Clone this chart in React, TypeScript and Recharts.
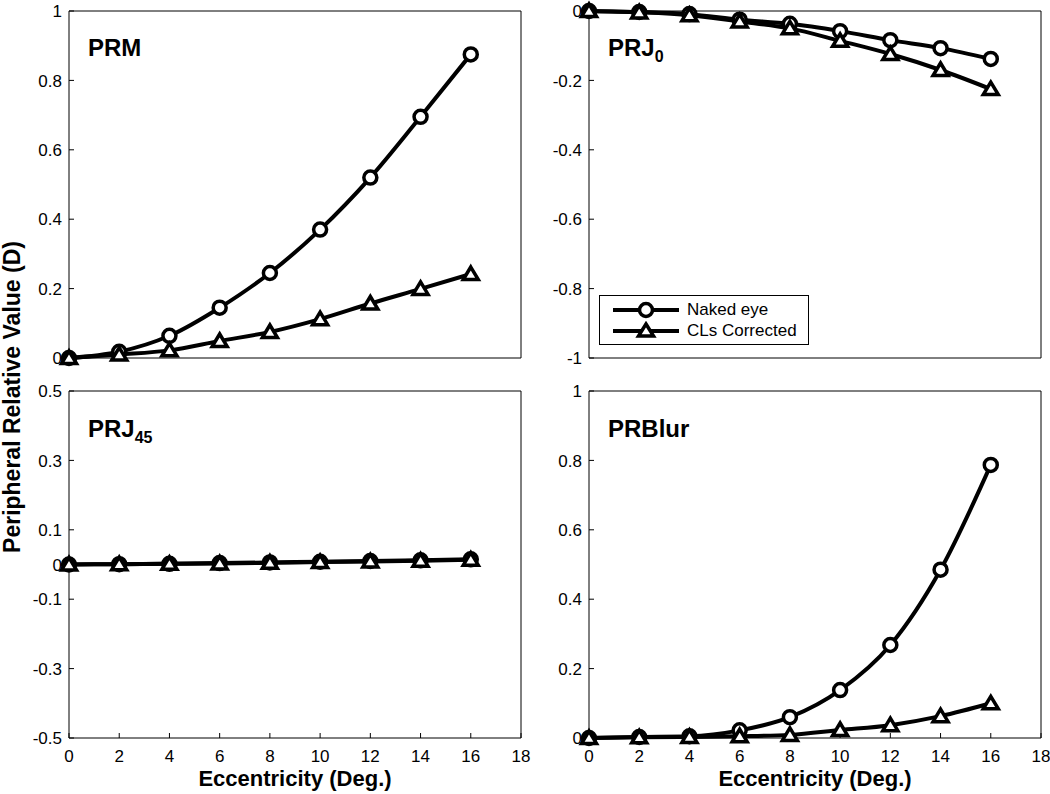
import React from "react";
import { LineChart, Line, XAxis, YAxis, Legend } from "recharts";

const FONT = '"Liberation Sans", Arial, sans-serif';

const ecc = [0, 2, 4, 6, 8, 10, 12, 14, 16];
const xTicks = [0, 2, 4, 6, 8, 10, 12, 14, 16, 18];

const prmNaked = [0, 0.018, 0.064, 0.145, 0.245, 0.37, 0.52, 0.695, 0.875];
const prmCL = [0, 0.01, 0.022, 0.049, 0.075, 0.112, 0.157, 0.199, 0.242];
const prj0Naked = [0, -0.003, -0.009, -0.025, -0.037, -0.058, -0.084, -0.107, -0.138];
const prj0CL = [0, -0.004, -0.012, -0.03, -0.05, -0.086, -0.124, -0.17, -0.225];
const prj45Naked = [0, 0.001, 0.002, 0.004, 0.006, 0.008, 0.01, 0.012, 0.015];
const prj45CL = [0, 0.001, 0.002, 0.003, 0.005, 0.007, 0.009, 0.011, 0.014];
const blurNaked = [0, 0.003, 0.005, 0.022, 0.06, 0.138, 0.268, 0.485, 0.787];
const blurCL = [0, 0.002, 0.003, 0.005, 0.009, 0.023, 0.037, 0.063, 0.1];

const ticksPos = [0, 0.2, 0.4, 0.6, 0.8, 1];
const ticksNeg = [-1, -0.8, -0.6, -0.4, -0.2, 0];
const ticksJ45 = [-0.5, -0.3, -0.1, 0, 0.1, 0.3, 0.5];

const rows = (a: number[], b: number[]) =>
  ecc.map((e, i) => ({ ecc: e, naked: a[i], cl: b[i] }));

const Tri = (p: any) => {
  const { cx, cy, index } = p;
  if (cx == null || cy == null) return <g key={index} />;
  return (
    <path
      key={index}
      d={`M${cx},${cy - 7} L${cx + 7.5},${cy + 5.5} L${cx - 7.5},${cy + 5.5} Z`}
      fill="#fff"
      stroke="#000"
      strokeWidth={3.5}
    />
  );
};

const tickFont = { fontSize: "17px", fontFamily: FONT, fill: "#000" };

const YTick = (p: any) => (
  <text x={p.x} y={p.y} dy="0.36em" textAnchor="end" style={tickFont}>
    {p.payload.value}
  </text>
);

const XTick = (p: any) => (
  <text x={p.x} y={p.y} dy="0.72em" textAnchor="middle" style={tickFont}>
    {p.payload.value}
  </text>
);

const LegendBox = () => (
  <div
    style={{
      border: "1px solid #000",
      background: "#fff",
      width: 210,
      height: 50,
      boxSizing: "border-box",
      padding: "3px 0 0 13px",
      fontFamily: FONT,
      fontSize: 17,
      lineHeight: "21px",
      color: "#000",
    }}
  >
    {["Naked eye", "CLs Corrected"].map((name, i) => (
      <div key={name} style={{ display: "flex", alignItems: "center", height: 21 }}>
        <svg width={66} height={20} style={{ marginRight: 8, flex: "none" }}>
          <line x1={0} y1={10} x2={66} y2={10} stroke="#000" strokeWidth={4} />
          {i === 0 ? (
            <circle cx={33} cy={10} r={6.5} fill="#fff" stroke="#000" strokeWidth={3.5} />
          ) : (
            <path d="M33,3 L40.5,15 L25.5,15 Z" fill="#fff" stroke="#000" strokeWidth={3.5} />
          )}
        </svg>
        <span style={{ whiteSpace: "nowrap" }}>{name}</span>
      </div>
    ))}
  </div>
);

interface PanelProps {
  left: number;
  top: number;
  naked: number[];
  cl: number[];
  domain: [number, number];
  yTicks: number[];
  bottomRow?: boolean;
  legend?: boolean;
}

function Panel({ left, top, naked, cl, domain, yTicks, bottomRow, legend }: PanelProps) {
  const data = rows(naked, cl);
  const xh = bottomRow ? 56 : 30;
  return (
    <div style={{ position: "absolute", left, top }}>
      <LineChart
        width={541}
        height={11 + 347 + xh}
        data={data}
        margin={{ top: 10, right: 19, left: 0, bottom: 0 }}
      >
        <XAxis
          dataKey="ecc"
          type="number"
          domain={[0, 18]}
          ticks={xTicks}
          height={xh}
          tickSize={-5}
          tickMargin={17}
          tick={bottomRow ? XTick : false}
          stroke="#000"
          label={
            bottomRow
              ? {
                  value: "Eccentricity (Deg.)",
                  position: "insideBottom",
                  offset: 8,
                  style: { fontSize: 22, fontWeight: "bold", fill: "#000", fontFamily: FONT },
                }
              : undefined
          }
        />
        <XAxis
          xAxisId="top"
          orientation="top"
          dataKey="ecc"
          type="number"
          domain={[0, 18]}
          ticks={xTicks}
          height={1}
          tickSize={-5}
          tick={false}
          stroke="#000"
        />
        <YAxis
          type="number"
          domain={domain}
          ticks={yTicks}
          width={69}
          tickSize={-5}
          tickMargin={12}
          tick={YTick}
          stroke="#000"
          interval={0}
        />
        <YAxis
          yAxisId="right"
          orientation="right"
          type="number"
          domain={domain}
          ticks={yTicks}
          width={1}
          tickSize={-5}
          tick={false}
          stroke="#000"
        />
        <Line
          type="monotone"
          dataKey="naked"
          stroke="#000"
          strokeWidth={4}
          dot={{ r: 6.5, stroke: "#000", strokeWidth: 3.5, fill: "#fff" }}
          isAnimationActive={false}
        />
        <Line
          type="monotone"
          dataKey="cl"
          stroke="#000"
          strokeWidth={4}
          dot={Tri}
          isAnimationActive={false}
        />
        {legend && (
          <Legend
            layout="vertical"
            align="center"
            verticalAlign="middle"
            content={LegendBox}
            wrapperStyle={{ left: 79, top: 295, width: 210 }}
          />
        )}
      </LineChart>
    </div>
  );
}

export default function App() {
  const titleStyle = { fontSize: 24, fontWeight: "bold" as const, fontFamily: FONT, fill: "#000" };
  return (
    <div style={{ position: "absolute", left: 0, top: 0, width: 1050, height: 794, background: "#fff" }}>
      <Panel left={0} top={0} naked={prmNaked} cl={prmCL} domain={[0, 1]} yTicks={ticksPos} />
      <Panel left={520} top={0} naked={prj0Naked} cl={prj0CL} domain={[-1, 0]} yTicks={ticksNeg} legend />
      <Panel left={0} top={380} naked={prj45Naked} cl={prj45CL} domain={[-0.5, 0.5]} yTicks={ticksJ45} bottomRow />
      <Panel left={520} top={380} naked={blurNaked} cl={blurCL} domain={[0, 1]} yTicks={ticksPos} bottomRow />
      <svg
        width={1050}
        height={794}
        style={{ position: "absolute", left: 0, top: 0, pointerEvents: "none" }}
      >
        <text x={88} y={56} style={titleStyle}>PRM</text>
        <text x={608} y={56} style={titleStyle}>
          PRJ<tspan dy={6} fontSize={16}>0</tspan>
        </text>
        <text x={88} y={437} style={titleStyle}>
          PRJ<tspan dy={6} fontSize={16}>45</tspan>
        </text>
        <text x={608} y={437} style={titleStyle}>PRBlur</text>
        <text
          x={0}
          y={0}
          transform="translate(20,397) rotate(-90)"
          textAnchor="middle"
          style={{ fontSize: 23, fontWeight: "bold", fontFamily: FONT, fill: "#000" }}
        >
          Peripheral Relative Value (D)
        </text>
      </svg>
    </div>
  );
}
